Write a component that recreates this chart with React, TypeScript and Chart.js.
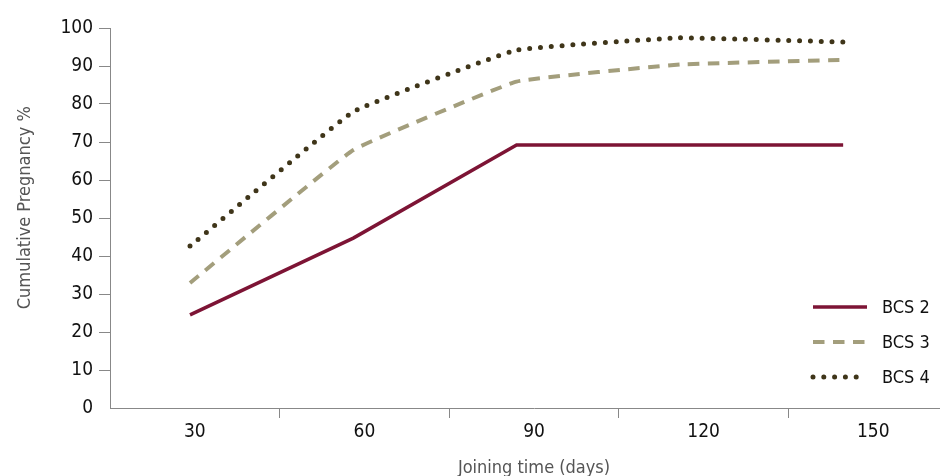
import React, { useEffect, useRef } from "react";
import { Chart, registerables } from "chart.js";

Chart.register(...registerables);

const days = [30, 60, 90, 120, 150];
const categories = ["30", "60", "90", "120", "150"];
const seriesNames = ["BCS 2", "BCS 3", "BCS 4"];
const bcs2 = [24.5, 44.7, 69.2, 69.2, 69.2];
const bcs3 = [32.9, 67.9, 85.9, 90.4, 91.6];
const bcs4 = [42.6, 78.0, 94.2, 97.4, 96.3];
const yTicks = [0, 10, 20, 30, 40, 50, 60, 70, 80, 90, 100];

const FONT = "'Liberation Sans Narrow', 'DejaVu Sans Condensed', 'Liberation Sans', sans-serif";

const legendPlugin = {
  id: "insideLegend",
  afterDraw(chart: any) {
    const ctx = chart.ctx;
    const ds = chart.data.datasets;
    const x0 = 813;
    const x1 = 867;
    const ys = [307, 342, 377];
    ds.forEach((d: any, i: number) => {
      const y = ys[i];
      ctx.save();
      ctx.strokeStyle = d.borderColor;
      ctx.lineWidth = d.borderWidth;
      ctx.lineCap = d.borderCapStyle || "butt";
      if (i === 2) {
        ctx.setLineDash([0, 10.8]);
      } else {
        ctx.setLineDash(d.borderDash || []);
      }
      ctx.beginPath();
      ctx.moveTo(x0, y);
      ctx.lineTo(x1, y);
      ctx.stroke();
      ctx.restore();
      ctx.save();
      ctx.fillStyle = "#111";
      ctx.font = `18px ${FONT}`;
      ctx.textAlign = "left";
      ctx.textBaseline = "middle";
      ctx.fillText(d.label, 882, y + 1);
      ctx.restore();
    });
  },
};

export default function App() {
  const ref = useRef<HTMLCanvasElement | null>(null);
  useEffect(() => {
    document.body.style.margin = "0";
    const canvas = ref.current;
    if (!canvas) return;
    const mk = (vals: number[]) => days.map((d, i) => ({ x: d, y: vals[i] }));
    const chart = new Chart(canvas, {
      type: "line",
      data: {
        datasets: [
          {
            label: seriesNames[0],
            data: mk(bcs2),
            xAxisID: "xd",
            borderColor: "#7d1435",
            borderWidth: 3.5,
            pointRadius: 0,
            tension: 0,
            fill: false,
          },
          {
            label: seriesNames[1],
            data: mk(bcs3),
            xAxisID: "xd",
            borderColor: "#a39e7c",
            borderWidth: 4,
            borderDash: [11.5, 8.5],
            pointRadius: 0,
            tension: 0.08,
            fill: false,
          },
          {
            label: seriesNames[2],
            data: mk(bcs4),
            xAxisID: "xd",
            borderColor: "#3f3519",
            borderWidth: 5,
            borderDash: [0, 10.8],
            borderCapStyle: "round",
            pointRadius: 0,
            tension: 0.08,
            fill: false,
          },
        ],
      },
      options: {
        responsive: false,
        animation: false,
        layout: { padding: { top: 28, left: 0, right: 0, bottom: 0 } },
        plugins: { legend: { display: false }, tooltip: { enabled: false } },
        scales: {
          x: {
            type: "category",
            labels: categories,
            position: "bottom",
            offset: true,
            grid: {
              offset: true,
              drawOnChartArea: false,
              tickLength: 10,
              color: (c: any) => (c.index === 0 ? "rgba(0,0,0,0)" : "#888"),
            },
            border: { color: "#888", width: 1 },
            ticks: { color: "#111", font: { family: FONT, size: 19 }, padding: 3, maxRotation: 0 },
            title: {
              display: true,
              text: "Joining time (days)",
              color: "#555",
              font: { family: FONT, size: 18 },
              padding: { top: 0, bottom: -3 },
            },
            afterFit: (s: any) => {
              s.height = 68;
            },
          },
          xd: {
            type: "linear",
            display: false,
            min: 15.3,
            max: 171.1,
          },
          y: {
            min: 0,
            max: 100,
            afterBuildTicks: (s: any) => {
              s.ticks = yTicks.map((v) => ({ value: v }));
            },
            grid: {
              drawOnChartArea: false,
              tickLength: 11,
              color: (c: any) => (c.index === 0 ? "rgba(0,0,0,0)" : "#888"),
            },
            border: { color: "#888", width: 1 },
            ticks: { color: "#111", font: { family: FONT, size: 19 }, padding: 6 },
            title: {
              display: true,
              text: "    Cumulative Pregnancy %",
              color: "#555",
              font: { family: FONT, size: 18 },
              padding: { top: 15, bottom: 0 },
            },
            afterFit: (s: any) => {
              s.width = 110;
            },
          },
        },
      },
      plugins: [legendPlugin],
    });
    return () => chart.destroy();
  }, []);
  return (
    <div style={{ width: 940, height: 476, overflow: "hidden" }}>
      <canvas ref={ref} width={958} height={476} style={{ display: "block" }} />
    </div>
  );
}
